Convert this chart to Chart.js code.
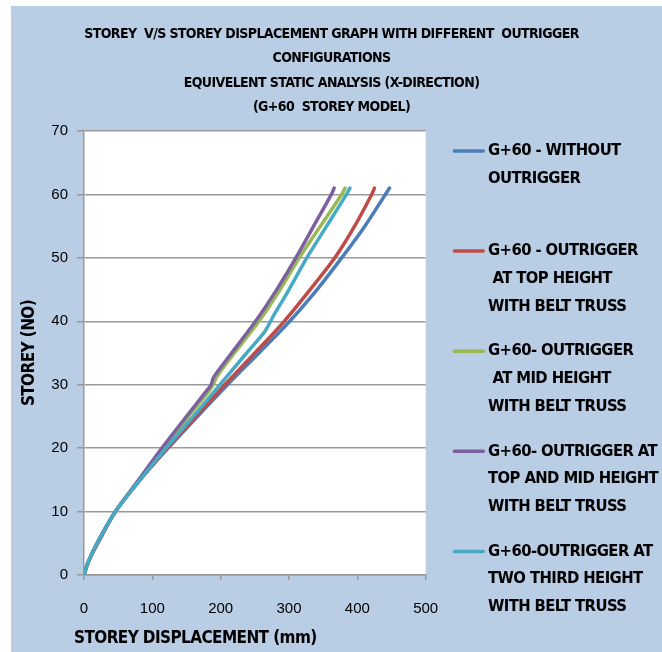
<!DOCTYPE html>
<html>
<head>
<meta charset="utf-8">
<title>Storey v/s storey displacement</title>
<script src="https://cdn.jsdelivr.net/npm/chart.js@4.4.1/dist/chart.umd.min.js"></script>
<style>
  html, body { margin: 0; padding: 0; background: #fff; }
  #wrap { position: absolute; left: 11px; top: 6px; width: 651px; height: 646px; background: #b9cde5; }
</style>
</head>
<body>
<div id="wrap"><canvas id="chart" width="651" height="646"></canvas></div>
<script>
// ---- data ----
const titleLines = [
  'STOREY  V/S STOREY DISPLACEMENT GRAPH WITH DIFFERENT  OUTRIGGER',
  'CONFIGURATIONS',
  'EQUIVELENT STATIC ANALYSIS (X-DIRECTION)',
  '(G+60  STOREY MODEL)',
];
const xTitle = 'STOREY DISPLACEMENT (mm)';
const yTitle = 'STOREY (NO)';

const storeys = [0, 2, 5, 10, 15, 20, 25, 29, 30, 31, 32, 35, 38, 39, 40, 41, 45, 50, 55, 60, 61];

// displacement (mm) per storey, null = not read for that series
const withoutOutrigger = [0, 6, 20, 46, 82, 123, 166, null, 210, null, null, 256, null, null, 301, null, 341, 377, 411, 441, 447];
const outriggerTop     = [0, 6, 20, 46, 82, 122, 164, null, 206, null, null, 250, null, null, 293, null, 331, 367, 396, 421, 425];
const outriggerMid     = [0, 6, 19, 46, 81, 117, 153, 183, 189, 193, 199, 220, null, null, 256, null, 287, 315, 346, 377, 382];
const outriggerTopMid  = [0, 6, 19, 46, 80, 114, 150, 179, 186, 189, 195, 216, null, null, 251, null, 282, 310, 336, 362, 366];
const outriggerTwoThird = [0, 6, 19, 46, 82, 120, 160, null, 199, null, null, 238, 262, 268, 273, 278, 300, 326, 355, 384, 389];

const seriesNames = [
  ['G+60 - WITHOUT', 'OUTRIGGER'],
  ['G+60 - OUTRIGGER', ' AT TOP HEIGHT', 'WITH BELT TRUSS'],
  ['G+60- OUTRIGGER', ' AT MID HEIGHT', 'WITH BELT TRUSS'],
  ['G+60- OUTRIGGER AT', 'TOP AND MID HEIGHT', 'WITH BELT TRUSS'],
  ['G+60-OUTRIGGER AT', 'TWO THIRD HEIGHT', 'WITH BELT TRUSS'],
];
const seriesValues = [withoutOutrigger, outriggerTop, outriggerMid, outriggerTopMid, outriggerTwoThird];
const seriesColors = ['#4a7ebb', '#be4b48', '#98b954', '#7d60a0', '#46aac5'];

const xTicks = { min: 0, max: 500, step: 100 };
const yTicks = { min: 0, max: 70, step: 10 };

// ---- styling ----
const NARROW = '"DejaVu Sans Condensed", "DejaVu Sans", sans-serif';
const SANS = '"Liberation Sans", Arial, sans-serif';
const TIGHT = '-0.6px';   // the reference text is squeezed
const GRID = '#999999';
const LEGEND_W = 226.3;

function toPoints(values) {
  const pts = [];
  values.forEach((v, i) => {
    if (v !== null) pts.push({ x: v, y: storeys[i] });
  });
  return pts;
}

const plotBg = {
  id: 'plotBg',
  afterLayout(chart) {
    // x title starts a little left of the plot in the reference
    const sx = chart.scales.x;
    if (sx && !sx._titleShifted) {
      const orig = sx.drawTitle;
      sx.drawTitle = function () {
        this.ctx.save();
        this.ctx.translate(-10, 0);
        orig.apply(this, arguments);
        this.ctx.restore();
      };
      sx._titleShifted = true;
    }
  },
  beforeDraw(chart) {
    const { ctx, chartArea: a } = chart;
    ctx.save();
    ctx.fillStyle = '#ffffff';
    ctx.fillRect(a.left, a.top, a.right - a.left, a.bottom - a.top);
    ctx.restore();
    // titles are drawn before the datasets: squeeze them a little
    ctx.letterSpacing = TIGHT;
  },
  beforeDatasetsDraw(chart) {
    chart.ctx.letterSpacing = '0px';
  },
};

// legend with wrapped lines, kept as a layout box on the right
function drawSideLegend(chart, box) {
  const ctx = chart.ctx;
  ctx.save();
  ctx.letterSpacing = TIGHT;
  ctx.font = 'bold 16.5px ' + NARROW;
  ctx.textBaseline = 'middle';
  ctx.textAlign = 'left';
  chart.data.datasets.forEach((ds, i) => {
    const y = box.top + 20 + i * 100.1;
    ctx.strokeStyle = ds.borderColor;
    ctx.lineWidth = 3.5;
    ctx.lineCap = 'round';
    ctx.beginPath();
    ctx.moveTo(box.left + 28.7, y);
    ctx.lineTo(box.left + 57.6, y);
    ctx.stroke();
    ctx.fillStyle = '#000';
    seriesNames[i].forEach((line, k) => ctx.fillText(line, box.left + 62.3, y + k * 27.6));
  });
  ctx.restore();
}

const sideLegend = {
  id: 'sideLegend',
  beforeInit(chart) {
    const box = {
      position: 'right',
      weight: 10,
      fullSize: false,
      options: {},
      left: 0, top: 0, right: 0, bottom: 0, width: 0, height: 0,
      isHorizontal() { return false; },
      getPadding() { return { top: 0, left: 0, right: 0, bottom: 0 }; },
      update(maxWidth, maxHeight) {
        box.width = LEGEND_W;
        box.height = maxHeight;
      },
      draw() { drawSideLegend(chart, box); },
    };
    Chart.layouts.addBox(chart, box);
  },
};

new Chart(document.getElementById('chart'), {
  type: 'line',
  data: {
    datasets: seriesValues.map((vals, i) => ({
      label: seriesNames[i].join(' ').replace(/\s+/g, ' ').trim(),
      data: toPoints(vals),
      borderColor: seriesColors[i],
      backgroundColor: seriesColors[i],
      borderWidth: 3.5,
      pointRadius: 0,
      tension: 0.3,
      borderCapStyle: 'round',
      borderJoinStyle: 'round',
      fill: false,
      order: seriesValues.length - i,
    })),
  },
  options: {
    responsive: false,
    animation: false,
    layout: { padding: { top: 0, left: 0, right: 10, bottom: 0 } },
    plugins: {
      legend: { display: false },
      tooltip: { enabled: false },
      title: {
        display: true,
        text: titleLines,
        color: '#000',
        font: { family: NARROW, size: 14, weight: 'bold', lineHeight: '24.5px' },
        padding: { top: 15.75, bottom: 11.25 },
      },
    },
    scales: {
      x: {
        type: 'linear',
        min: xTicks.min,
        max: xTicks.max,
        ticks: { stepSize: xTicks.step, color: '#000', font: { family: SANS, size: 15 }, padding: 20, maxRotation: 0, z: 1 },
        grid: { drawOnChartArea: false, drawTicks: true, tickLength: 5, color: GRID, lineWidth: 1.5 },
        border: { display: true, color: GRID, width: 1.5 },
        title: {
          display: true,
          text: xTitle,
          align: 'start',
          color: '#000',
          font: { family: NARROW, size: 17, weight: 'bold', lineHeight: 1.2 },
          padding: { top: 0, bottom: 2.8 },
        },
        afterFit(axis) { axis.height = 77; },
      },
      y: {
        type: 'linear',
        min: yTicks.min,
        max: yTicks.max,
        ticks: { stepSize: yTicks.step, color: '#000', font: { family: SANS, size: 15 }, padding: 9, z: 1 },
        grid: { color: GRID, lineWidth: 1.5, tickLength: 7 },
        border: { display: true, color: GRID, width: 1.5 },
        title: {
          display: true,
          text: yTitle,
          color: '#000',
          font: { family: NARROW, size: 17, weight: 'bold', lineHeight: 1.2 },
          padding: { top: 8.5, bottom: 0 },
        },
        afterFit(axis) { axis.width = 73; },
      },
    },
  },
  plugins: [plotBg, sideLegend],
});
</script>
</body>
</html>
